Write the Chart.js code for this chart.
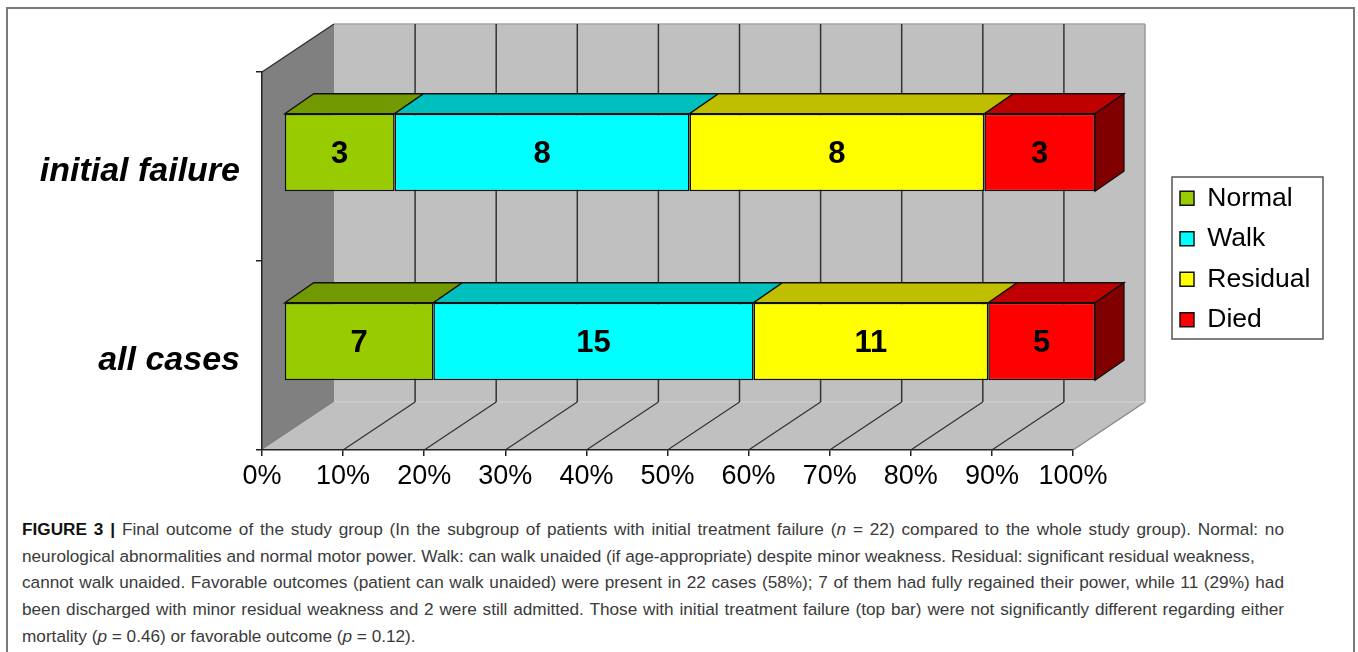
<!DOCTYPE html>
<html>
<head>
<meta charset="utf-8">
<title>Final outcome of the study group</title>
<script src="https://cdn.jsdelivr.net/npm/chart.js@4.4.1/dist/chart.umd.min.js"></script>
<style>
  html, body { margin: 0; padding: 0; background: #fff; }
  body { width: 1358px; height: 652px; position: relative; overflow: hidden;
         font-family: "Liberation Sans", Arial, Helvetica, sans-serif; }
  #plot { position: absolute; left: 0; top: 0; width: 1358px; height: 500px; }
  #frame { position: absolute; left: 6px; top: 7px; width: 1345px; height: 700px;
           border: 2px solid #7a7a7a; pointer-events: none; }
  #caption { position: absolute; left: 22px; top: 516px; width: 1262px;
             font-size: 17.2px; line-height: 26.7px; color: #3a3a3a; }
  #caption .ln { white-space: nowrap; }
  #caption .jf { text-align: justify; text-align-last: justify; }
  #caption b { color: #111; }
</style>
</head>
<body>
<div id="plot"><canvas id="chart" width="1358" height="500"></canvas></div>
<div id="caption">
  <div class="ln jf"><b>FIGURE 3 |</b> Final outcome of the study group (In the subgroup of patients with initial treatment failure (<i>n</i> = 22) compared to the whole study group). Normal: no</div>
  <div class="ln">neurological abnormalities and normal motor power. Walk: can walk unaided (if age-appropriate) despite minor weakness. Residual: significant residual weakness,</div>
  <div class="ln jf">cannot walk unaided. Favorable outcomes (patient can walk unaided) were present in 22 cases (58%); 7 of them had fully regained their power, while 11 (29%) had</div>
  <div class="ln jf">been discharged with minor residual weakness and 2 were still admitted. Those with initial treatment failure (top bar) were not significantly different regarding either</div>
  <div class="ln">mortality (<i>p</i> = 0.46) or favorable outcome (<i>p</i> = 0.12).</div>
</div>
<div id="frame"></div>

<script>
// ---- data -------------------------------------------------------------
const categories     = ['initial failure', 'all cases'];
const seriesNames    = ['Normal', 'Walk', 'Residual', 'Died'];
const normalCounts   = [3, 7];
const walkCounts     = [8, 15];
const residualCounts = [8, 11];
const diedCounts     = [3, 5];
const percentLabels  = ['0%', '10%', '20%', '30%', '40%', '50%', '60%', '70%', '80%', '90%', '100%'];

// ---- styling ----------------------------------------------------------
const seriesColors = ['#99CC00', '#00FFFF', '#FFFF00', '#FF0000'];
const EDGE = '#111';
const WALL = { dx: 72, dy: -48 };          // depth of the 3-D box
const BAR_SHIFT = { x: 22, y: -14 };       // bars sit a little inside the box
const BAR_DEPTH = { dx: 29, dy: -20 };     // thickness of each bar
const Y_AXIS_BAND = 262;
const X_AXIS_BAND = 50;
const LEGEND_SLOT = 285;
const LEGEND_POS = { left: 1166, top: 171 };

// stacked to 100 %: each bar is shown as share of its category total
const countSeries = [normalCounts, walkCounts, residualCounts, diedCounts];
const totals = categories.map((_, i) => countSeries.reduce((s, arr) => s + arr[i], 0));
const toPercent = counts => counts.map((c, i) => c / totals[i] * 100);

function shade(hex, f) {
  const n = parseInt(hex.slice(1), 16);
  const r = Math.round(((n >> 16) & 255) * f);
  const g = Math.round(((n >> 8) & 255) * f);
  const b = Math.round((n & 255) * f);
  return `rgb(${r},${g},${b})`;
}

function poly(ctx, pts, fill, stroke, lw) {
  ctx.beginPath();
  ctx.moveTo(pts[0][0], pts[0][1]);
  for (let i = 1; i < pts.length; i++) ctx.lineTo(pts[i][0], pts[i][1]);
  ctx.closePath();
  if (fill) { ctx.fillStyle = fill; ctx.fill(); }
  if (stroke) { ctx.strokeStyle = stroke; ctx.lineWidth = lw || 1; ctx.stroke(); }
}

function seg(ctx, x1, y1, x2, y2, color, lw) {
  ctx.beginPath();
  ctx.moveTo(x1, y1);
  ctx.lineTo(x2, y2);
  ctx.strokeStyle = color;
  ctx.lineWidth = lw;
  ctx.stroke();
}

// walls, floor and depth gridlines of the 3-D box, plus bar depth faces
const box3d = {
  id: 'box3d',
  beforeDraw(chart) {
    const { ctx, chartArea: a, scales: { x } } = chart;
    const L = a.left, R = a.right, T = a.top, B = a.bottom;
    const dx = WALL.dx, dy = WALL.dy;
    ctx.save();
    ctx.fillStyle = '#C0C0C0';
    ctx.fillRect(L + dx, T + dy, R - L, B - T);
    poly(ctx, [[L, B], [R, B], [R + dx, B + dy], [L + dx, B + dy]], '#C0C0C0');
    poly(ctx, [[L, T], [L + dx, T + dy], [L + dx, B + dy], [L, B]], '#808080');
    // light edges of the box
    seg(ctx, L + dx, T + dy, R + dx, T + dy, '#a9a9a9', 1.5);
    seg(ctx, R + dx, T + dy, R + dx, B + dy, '#9a9a9a', 1.5);
    seg(ctx, R, B, R + dx, B + dy, '#8a8a8a', 1.5);
    seg(ctx, L + dx, B + dy, R + dx, B + dy, '#d4d4d4', 1);
    // dark edge on top of the side wall
    seg(ctx, L, T, L + dx, T + dy, '#333', 1.5);
    // gridlines on the back wall and across the floor
    x.ticks.forEach(t => {
      if (t.value <= x.min || t.value >= x.max) return;
      const px = x.getPixelForValue(t.value);
      seg(ctx, px + dx, T + dy, px + dx, B + dy, '#333', 1.5);
      seg(ctx, px, B, px + dx, B + dy, '#333', 1.2);
    });
    ctx.restore();
  },
  beforeDatasetsDraw(chart) {
    chart.ctx.save();
    chart.ctx.translate(BAR_SHIFT.x, BAR_SHIFT.y);
  },
  afterDatasetsDraw(chart) {
    const ctx = chart.ctx;
    const last = chart.data.datasets.length - 1;
    chart.data.datasets.forEach((ds, di) => {
      const meta = chart.getDatasetMeta(di);
      if (meta.hidden) return;
      meta.data.forEach((bar, i) => {
        const { x, y, base, height } = bar.getProps(['x', 'y', 'base', 'height'], true);
        const top = y - height / 2, bottom = y + height / 2;
        const left = Math.min(x, base), right = Math.max(x, base);
        const ddx = BAR_DEPTH.dx, ddy = BAR_DEPTH.dy;
        poly(ctx, [[left, top], [left + ddx, top + ddy], [right + ddx, top + ddy], [right, top]],
             shade(ds.backgroundColor, 0.75), EDGE, 1.3);
        if (di === last) {
          poly(ctx, [[right, top], [right + ddx, top + ddy], [right + ddx, bottom + ddy], [right, bottom]],
               shade(ds.backgroundColor, 0.5), EDGE, 1.3);
        }
        ctx.fillStyle = '#000';
        ctx.font = 'bold 31px "Liberation Sans", Arial, sans-serif';
        ctx.textAlign = 'center';
        ctx.textBaseline = 'middle';
        ctx.fillText(String(ds.counts[i]), (left + right) / 2, y + 2);
      });
    });
    ctx.restore();
  }
};

// legend placed in its own framed box to the right of the plot
const legendBox = {
  id: 'legendBox',
  beforeUpdate(chart) {
    const lg = chart.legend;
    if (lg && !lg.__slotted) {
      const fit = lg.fit;
      lg.fit = function () { fit.call(this); this.width = LEGEND_SLOT; };
      lg.__slotted = true;
    }
  },
  afterLayout(chart) {
    const lg = chart.legend;
    if (!lg) return;
    lg.left = LEGEND_POS.left;
    lg.top = LEGEND_POS.top;
    lg.right = lg.left + 180;
    lg.bottom = lg.top + 180;
    lg.width = 180;
    lg.height = 180;
  },
  afterDraw(chart) {
    const lg = chart.legend;
    if (!lg) return;
    const ctx = chart.ctx;
    ctx.save();
    ctx.strokeStyle = '#555';
    ctx.lineWidth = 1.5;
    ctx.strokeRect(lg.left + 6, lg.top + 6, 151, 162);
    ctx.restore();
  }
};

Chart.defaults.font.family = '"Liberation Sans", Arial, Helvetica, sans-serif';

const datasets = seriesNames.map((name, k) => ({
  label: name,
  data: toPercent(countSeries[k]),
  counts: countSeries[k],
  backgroundColor: seriesColors[k],
  borderColor: EDGE,
  borderWidth: 1.5,
  borderSkipped: false,
  categoryPercentage: 0.41,
  barPercentage: 1.0,
  clip: false
}));

new Chart(document.getElementById('chart'), {
  type: 'bar',
  data: { labels: categories, datasets },
  plugins: [box3d, legendBox],
  options: {
    responsive: false,
    animation: false,
    devicePixelRatio: 1,
    indexAxis: 'y',
    layout: { padding: { top: 72, left: 0, right: 0, bottom: 0 } },
    plugins: {
      legend: {
        position: 'right',
        align: 'start',
        labels: {
          color: '#000',
          font: { size: 26.5 },
          boxWidth: 14,
          boxHeight: 14,
          padding: 14
        }
      },
      tooltip: { enabled: false }
    },
    scales: {
      x: {
        stacked: true,
        min: 0,
        max: 100,
        ticks: {
          stepSize: 10,
          autoSkip: false,
          maxRotation: 0,
          color: '#000',
          font: { size: 27 },
          padding: 4,
          callback: (v, i) => percentLabels[i]
        },
        grid: { drawOnChartArea: false, drawTicks: true, tickLength: 6, color: '#222', lineWidth: 1.5 },
        border: { display: true, color: '#222', width: 1.5 },
        afterFit: s => { s.height = X_AXIS_BAND; }
      },
      y: {
        stacked: true,
        ticks: {
          color: '#000',
          font: { size: 34, weight: 'bold', style: 'italic' },
          padding: 16,
          labelOffset: 5
        },
        grid: { drawOnChartArea: false, offset: true, tickLength: 6, color: '#222', lineWidth: 1.5 },
        border: { display: true, color: '#222', width: 1.5 },
        afterFit: s => { s.width = Y_AXIS_BAND; }
      }
    }
  }
});
</script>
</body>
</html>
